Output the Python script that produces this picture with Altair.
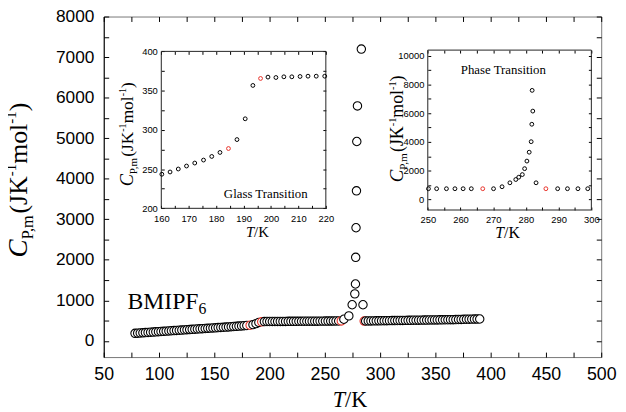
import altair as alt
import pandas as pd

# ---------------- main plot data ----------------
T_seg1 = [78.3, 80.7, 83.0, 85.4, 87.7, 90.1, 92.4, 94.8, 97.1, 99.5, 101.8, 104.2, 106.5, 108.9,
          111.2, 113.6, 115.9, 118.3, 120.6, 123.0, 125.3, 127.7, 130.0, 132.4, 134.7, 137.1, 139.4,
          141.8, 144.1, 146.5, 148.8, 151.2, 153.5, 155.9, 158.2, 160.6, 162.9, 165.3, 167.6, 170.0,
          172.3, 174.7, 177.0, 179.4]
C_seg1 = [185, 190, 194, 199, 204, 208, 213, 217, 222, 226, 231, 235, 240, 244, 249, 253, 258, 262,
          266, 271, 275, 279, 284, 288, 292, 297, 301, 305, 310, 314, 318, 322, 327, 331, 335, 340,
          344, 349, 354, 359, 364, 369, 374, 379]
T_glass_main = [182.4, 185.0, 187.7, 190.3, 192.9]
C_glass_main = [385, 400, 425, 455, 470]
K_glass_main = ["r", "n", "n", "n", "r"]
T_seg2 = [195.3, 197.7, 200.1, 202.5, 204.9, 207.3, 209.7, 212.1, 214.5, 216.9, 219.3, 221.7, 224.1,
          226.5, 228.9, 231.3, 233.7, 236.1, 238.5, 240.9, 243.3, 245.7, 248.1, 250.5, 252.9, 255.3,
          257.7, 260.1, 262.5]
C_seg2 = [476, 477, 477, 478, 478, 479, 479, 480, 480, 481, 481, 482, 482, 483, 483, 484, 484, 485,
          485, 486, 486, 487, 487, 488, 488, 489, 489, 490, 490]
T_peak_main = [264.9, 267.2, 271.7, 274.7, 277.1, 277.7, 277.9, 278.2, 278.6, 278.9, 279.5, 283.0, 284.5]
C_peak_main = [492, 533, 616, 891, 1159, 1402, 2060, 2790, 3701, 4918, 5795, 7197, 891]
K_peak_main = ["r", "n", "n", "n", "n", "n", "n", "n", "n", "n", "n", "n", "n"]
T_seg3 = [285.6, 286.9, 289.3, 291.7, 294.1, 296.5, 298.9, 301.3, 303.7, 306.1, 308.5, 310.9, 313.3,
          315.7, 318.1, 320.5, 322.9, 325.3, 327.7, 330.1, 332.5, 334.9, 337.3, 339.7, 342.1, 344.5,
          346.9, 349.3, 351.7, 354.1, 356.5, 358.9, 361.3, 363.7, 366.1, 368.5, 370.9, 373.3, 375.7,
          378.1, 380.5, 382.9, 385.3, 387.7, 390.1]
C_seg3 = [489, 490, 491, 492, 493, 494, 495, 496, 497, 498, 499, 500, 501, 502, 503, 504, 505, 506,
          507, 508, 509, 510, 511, 512, 513, 514, 515, 516, 517, 518, 519, 520, 521, 522, 523, 525,
          527, 529, 531, 533, 535, 536, 537, 538, 539]
K_seg3 = ["r"] + ["n"] * 44

# ---------------- glass transition inset ----------------
T_glass = [160.2, 163.2, 166.2, 169.2, 172.2, 175.4, 178.4, 181.4, 184.5, 187.6, 190.6, 193.4,
           196.2, 198.9, 201.8, 204.7, 207.6, 210.6, 213.5, 216.5, 219.6]
C_glass = [243.4, 246.3, 250.1, 253.9, 257.7, 261.5, 266.1, 271.2, 276.2, 287.6, 314.1, 356.6,
           365.5, 367.2, 366.7, 367.6, 367.6, 368.0, 368.4, 368.4, 368.4]
K_glass = ["n"] * 8 + ["r"] + ["n"] * 3 + ["r"] + ["n"] * 8

# ---------------- phase transition inset ----------------
T_phase = [250.2, 252.7, 255.7, 258.3, 260.8, 263.3, 266.8, 270.1, 272.7, 275.1, 276.9, 277.8,
           278.9, 279.6, 280.3, 281.0, 281.6, 281.8, 282.1, 281.9, 283.1, 286.1, 289.7, 292.7,
           295.9, 298.9]
C_phase = [734, 734, 734, 734, 734, 734, 734, 734, 872, 1147, 1376, 1537, 1720, 2133, 2661, 3280,
           4014, 5229, 6147, 7592, 1147, 734, 734, 734, 734, 734]
K_phase = ["n"] * 6 + ["r"] + ["n"] * 14 + ["r"] + ["n"] * 4

# ---------------- build tables ----------------
main_T = T_seg1 + T_glass_main + T_seg2 + T_peak_main + T_seg3
main_C = C_seg1 + C_glass_main + C_seg2 + C_peak_main + C_seg3
main_K = ["n"] * len(T_seg1) + K_glass_main + ["n"] * len(T_seg2) + K_peak_main + K_seg3
df_main = pd.DataFrame({"T": main_T, "C": main_C, "k": main_K})
df_glass = pd.DataFrame({"T": T_glass, "C": C_glass, "k": K_glass})
df_phase = pd.DataFrame({"T": T_phase, "C": C_phase, "k": K_phase})
ONE = pd.DataFrame({"a": [0]})

SANS = "Liberation Sans"
SERIF = "Liberation Serif"
W, H = 504, 345

XD, YD = [50, 500], [-400, 8000]
GXD, GYD = [160, 220], [200, 400]
GXR, GYR = [58.3, 225.0], [194.3, 35.3]
PXD, PYD = [250, 300], [-750, 10400]
PXR, PYR = [328.3, 494.0], [196.0, 34.0]

stroke_scale = alt.Scale(domain=["n", "r"], range=["black", "#e8322a"])


def sc(domain, rng):
    return alt.Scale(domain=domain, range=rng, nice=False, zero=False)


def ax(orient, values, labels=False, ticks=False, tick_size=0, offset=0, domain=False,
       size=18, pad=6, dcolor="black"):
    return alt.Axis(orient=orient, values=values, title=None, grid=False, labels=labels,
                    ticks=ticks, tickSize=tick_size, offset=offset, domain=domain,
                    labelFont=SANS, labelFontSize=size, labelPadding=pad, labelColor="black",
                    tickColor="black", tickWidth=1, domainColor=dcolor, domainWidth=1,
                    labelFlush=False, labelOverlap=False, format="d")


def rng(a, b, s):
    out, v = [], a
    while v <= b + 1e-9:
        out.append(v)
        v += s
    return out


layers = []

# ---- main ----
layers.append(alt.Chart(df_main).mark_point(shape="circle", filled=False, fill="white", size=72,
                                            strokeWidth=1.1, opacity=1).encode(
    x=alt.X("T:Q", scale=sc(XD, [0, W]), axis=ax("bottom", rng(50, 500, 50), labels=True, size=18, pad=9)),
    y=alt.Y("C:Q", scale=sc(YD, [H, 0]), axis=ax("left", rng(0, 8000, 1000), labels=True, size=17.5, pad=10,
                                                 domain=True)),
    stroke=alt.Stroke("k:N", scale=stroke_scale, legend=None)))
dummy_main = pd.DataFrame({"T": [50], "C": [0]})
layers.append(alt.Chart(dummy_main).mark_point(opacity=0).encode(
    x=alt.X("T:Q", scale=sc(XD, [0, W]), axis=ax("bottom", rng(50, 500, 25), ticks=True, tick_size=5, offset=-5)),
    y=alt.Y("C:Q", scale=sc(YD, [H, 0]), axis=ax("left", rng(0, 8000, 500), ticks=True, tick_size=5, offset=-5))))
layers.append(alt.Chart(dummy_main).mark_point(opacity=0).encode(
    x=alt.X("T:Q", scale=sc(XD, [0, W]), axis=ax("top", rng(50, 500, 25), ticks=True, tick_size=5, offset=-5)),
    y=alt.Y("C:Q", scale=sc(YD, [H, 0]), axis=ax("right", rng(0, 8000, 500), ticks=True, tick_size=5, offset=-5))))


def inset(df, xd, yd, xr, yr, xlab, ylab, xminor, yminor, tl=3):
    out = []
    bottom, top = yr
    left, right = xr
    out.append(alt.Chart(pd.DataFrame({"x": [xd[0]], "x2": [xd[1]], "y": [yd[0]], "y2": [yd[1]]}))
               .mark_rect(fill=None, fillOpacity=0, stroke="#222", strokeWidth=1).encode(
        x=alt.X("x:Q", scale=sc(xd, xr), axis=ax("bottom", xlab, labels=True, size=9.5, pad=5,
                                                  offset=-(H - bottom))),
        x2="x2:Q",
        y=alt.Y("y:Q", scale=sc(yd, yr), axis=ax("left", ylab, labels=True, size=9.5, pad=4,
                                                  offset=-left)),
        y2="y2:Q"))
    d = pd.DataFrame({"T": [xd[0]], "C": [yd[0]]})
    out.append(alt.Chart(d).mark_point(opacity=0).encode(
        x=alt.X("T:Q", scale=sc(xd, xr), axis=ax("bottom", xminor, ticks=True, tick_size=tl,
                                                  offset=-(H - bottom) - tl)),
        y=alt.Y("C:Q", scale=sc(yd, yr), axis=ax("left", yminor, ticks=True, tick_size=tl,
                                                  offset=-left - tl))))
    out.append(alt.Chart(d).mark_point(opacity=0).encode(
        x=alt.X("T:Q", scale=sc(xd, xr), axis=ax("top", xminor, ticks=True, tick_size=tl,
                                                  offset=-top - tl)),
        y=alt.Y("C:Q", scale=sc(yd, yr), axis=ax("right", yminor, ticks=True, tick_size=tl,
                                                  offset=right - W - tl))))
    out.append(alt.Chart(df).mark_point(shape="circle", filled=False, size=15, strokeWidth=1,
                                        opacity=1).encode(
        x=alt.X("T:Q", scale=sc(xd, xr), axis=None),
        y=alt.Y("C:Q", scale=sc(yd, yr), axis=None),
        stroke=alt.Stroke("k:N", scale=stroke_scale, legend=None)))
    return out


layers += inset(df_glass, GXD, GYD, GXR, GYR, rng(160, 220, 10), rng(200, 400, 50),
                rng(160, 220, 5), rng(200, 400, 25))
layers += inset(df_phase, PXD, PYD, PXR, PYR, rng(250, 300, 10), rng(0, 10000, 2000),
                rng(250, 300, 5), rng(0, 10000, 1000))

# ---------------- text pieces ----------------
WR = {"C": .667, "P": .556, ",": .25, "m": .778, "(": .333, "J": .389, "K": .722, "-": .333,
      "1": .5, "o": .5, "l": .278, ")": .333, "/": .278, "T": .611, "B": .667, "M": .889,
      "I": .333, "F": .556, "6": .5, " ": .25}
WI = {"C": .667, "T": .556}


def twidth(txt, size, ital):
    tb = WI if ital else WR
    return sum(tb.get(c, WR.get(c, .5)) for c in txt) * size


def pieces(parts, x0, y0, vertical):
    out, pos = [], 0.0
    for txt, size, ital, shift in parts:
        if vertical:
            x, y, ang = x0 + shift, y0 - pos, 270
        else:
            x, y, ang = x0 + pos, y0 + shift, 0
        out.append(alt.Chart(ONE).mark_text(text=txt, font=SERIF, fontSize=size,
                                            fontStyle="italic" if ital else "normal",
                                            angle=ang, align="left", baseline="alphabetic",
                                            color="black").encode(
            x=alt.value(x), y=alt.value(y)))
        pos += twidth(txt, size, ital)
    return out


def cp_title(s):
    return [("C", s, True, 0), ("P,m", s * 0.6, False, s * 0.22), ("(JK", s * 0.95, False, 0),
            ("-1", s * 0.55, False, -s * 0.38), ("mol", s * 0.95, False, 0),
            ("-1", s * 0.55, False, -s * 0.38), (")", s * 0.95, False, 0)]


def tk_title(s):
    return [("T", s, True, 0), ("/K", s, False, 0)]


layers += pieces(cp_title(27.5), -78, 244, True)
layers += pieces(cp_title(18.5), 30, 172, True)
layers += pieces(cp_title(19), 303, 168, True)
layers += pieces(tk_title(22.5), 232, 396, False)
layers += pieces(tk_title(15), 144, 223, False)
layers += pieces(tk_title(16), 396.7, 224, False)
layers += pieces([("BMIPF", 24, False, 0), ("6", 16, False, 5)], 24, 296, False)
layers += pieces([("Glass Transition", 13, False, 0)], 121.7, 184, False)
layers += pieces([("Phase Transition", 13, False, 0)], 361.7, 58, False)

chart = alt.layer(*layers).resolve_scale(x="independent", y="independent").resolve_axis(
    x="independent", y="independent").properties(
    width=W, height=H, autosize=alt.AutoSizeParams(type="none"),
    padding={"left": 97, "top": 6, "right": 17, "bottom": 53},
    background="white").configure_view(stroke="#777", strokeWidth=1)

chart.save("out.html", embed_options={"renderer": "svg", "actions": False})
